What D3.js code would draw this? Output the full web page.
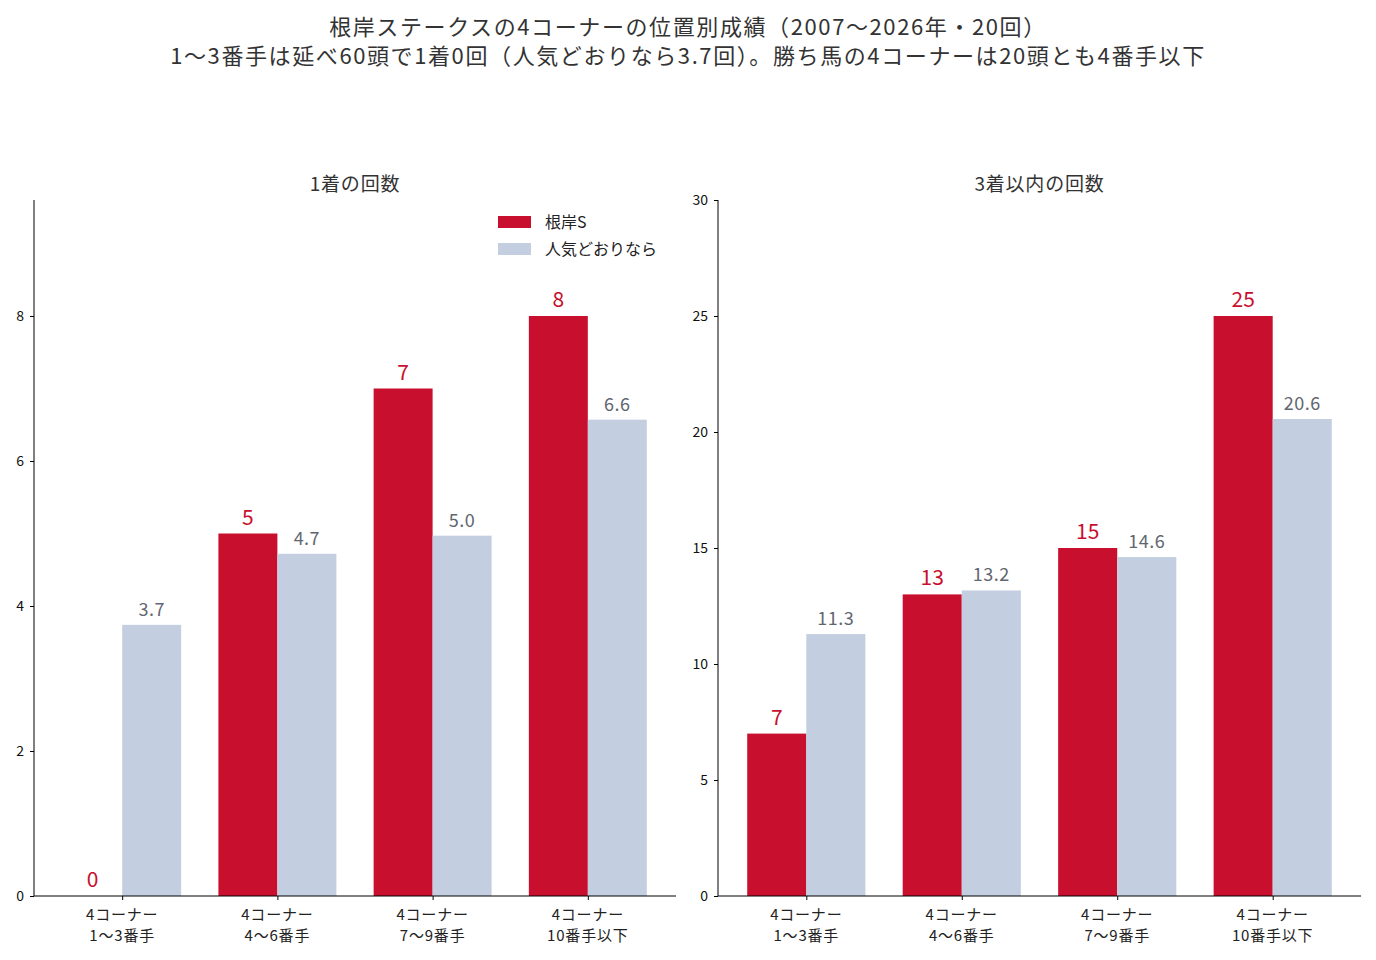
<!DOCTYPE html>
<html>
<head>
<meta charset="utf-8">
<script src="https://cdn.jsdelivr.net/npm/d3@7"></script>
<style>
  body { margin: 0; background: #fff; }
  svg text { font-family: "Noto Sans CJK JP", "Noto Sans", sans-serif; }
</style>
</head>
<body>
<svg id="chart" width="1376" height="960"></svg>
<script>
const categories = ["4コーナー\n1〜3番手", "4コーナー\n4〜6番手", "4コーナー\n7〜9番手", "4コーナー\n10番手以下"];
const seriesNames = ["根岸S", "人気どおりなら"];
const winsActual = [0, 5, 7, 8];
const winsExpected = [3.74, 4.72, 4.97, 6.57];
const top3Actual = [7, 13, 15, 25];
const top3Expected = [11.29, 13.17, 14.61, 20.56];
const winTicks = [0, 2, 4, 6, 8];
const top3Ticks = [0, 5, 10, 15, 20, 25, 30];

const RED = "#c8102e";
const BLUE = "#c3cfe0";

const svg = d3.select("#chart");

const titleLines = [
    "根岸ステークスの4コーナーの位置別成績（2007〜2026年・20回）",
    "1〜3番手は延べ60頭で1着0回（人気どおりなら3.7回）。勝ち馬の4コーナーは20頭とも4番手以下"
];
titleLines.forEach((t, i) => {
    svg.append("text")
        .attr("x", 688).attr("y", 35 + i * 29)
        .attr("text-anchor", "middle")
        .attr("font-size", 22)
        .attr("letter-spacing", 1.6)
        .attr("fill", "#333")
        .text(t);
});

function drawPanel(left, right, title, actual, expected, yMax, ticks, showLegend) {
    const top = 200, bottom = 896;
    const g = svg.append("g");

    // bar width 0.38 per bar, 5% side margins
    const x = d3.scaleLinear().domain([-0.568, 3.568]).range([left, right]);
    const y = d3.scaleLinear().domain([0, yMax]).range([bottom, top]);
    const w = 0.38;

    g.append("text")
        .attr("x", (left + right) / 2).attr("y", 191)
        .attr("text-anchor", "middle")
        .attr("font-size", 19)
        .attr("letter-spacing", 0.8)
        .attr("fill", "#333")
        .text(title);

    g.selectAll(".act").data(actual).join("rect")
        .attr("x", (d, i) => x(i - w))
        .attr("width", x(w) - x(0))
        .attr("y", d => y(d))
        .attr("height", d => y(0) - y(d))
        .attr("fill", RED);

    g.selectAll(".exp").data(expected).join("rect")
        .attr("x", (d, i) => x(i))
        .attr("width", x(w) - x(0))
        .attr("y", d => y(d))
        .attr("height", d => y(0) - y(d))
        .attr("fill", BLUE);

    g.selectAll(".actLabel").data(actual).join("text")
        .attr("x", (d, i) => x(i - w / 2))
        .attr("y", d => y(d) - 9)
        .attr("text-anchor", "middle")
        .attr("font-size", 21)
        .attr("fill", RED)
        .text(d => d);

    g.selectAll(".expLabel").data(expected).join("text")
        .attr("x", (d, i) => x(i + w / 2))
        .attr("y", d => y(d) - 9)
        .attr("text-anchor", "middle")
        .attr("font-size", 18)
        .attr("letter-spacing", 0.5)
        .attr("fill", "#5f6670")
        .text(d => d.toFixed(1));

    const yAxis = g.append("g")
        .attr("transform", `translate(${left},0)`)
        .call(d3.axisLeft(y).tickValues(ticks).tickSize(4).tickPadding(6));
    yAxis.select(".domain").attr("d", `M0,${top}V${bottom}`).attr("stroke", "#000");
    yAxis.selectAll("text").attr("font-size", 14).attr("fill", "#111");

    const xAxis = g.append("g")
        .attr("transform", `translate(0,${bottom})`)
        .call(d3.axisBottom(x).tickValues([0, 1, 2, 3]).tickSize(4).tickFormat(""));
    xAxis.select(".domain").attr("d", `M${left},0H${right}`).attr("stroke", "#000");

    categories.forEach((c, i) => {
        c.split("\n").forEach((ln, j) => {
            g.append("text")
                .attr("x", x(i)).attr("y", bottom + 24 + j * 21)
                .attr("text-anchor", "middle")
                .attr("font-size", 15)
                .attr("letter-spacing", 0.8)
                .attr("fill", "#222")
                .text(ln);
        });
    });

    if (showLegend) {
        const colors = [RED, BLUE];
        seriesNames.forEach((name, i) => {
            g.append("rect")
                .attr("x", 498).attr("y", 216 + i * 27)
                .attr("width", 33).attr("height", 12)
                .attr("fill", colors[i]);
            g.append("text")
                .attr("x", 545).attr("y", 228 + i * 27)
                .attr("font-size", 16)
                .attr("fill", "#222")
                .text(name);
        });
    }
}

drawPanel(34, 676, "1着の回数", winsActual, winsExpected, 9.6, winTicks, true);
drawPanel(718, 1361, "3着以内の回数", top3Actual, top3Expected, 30, top3Ticks, false);
</script>
</body>
</html>
